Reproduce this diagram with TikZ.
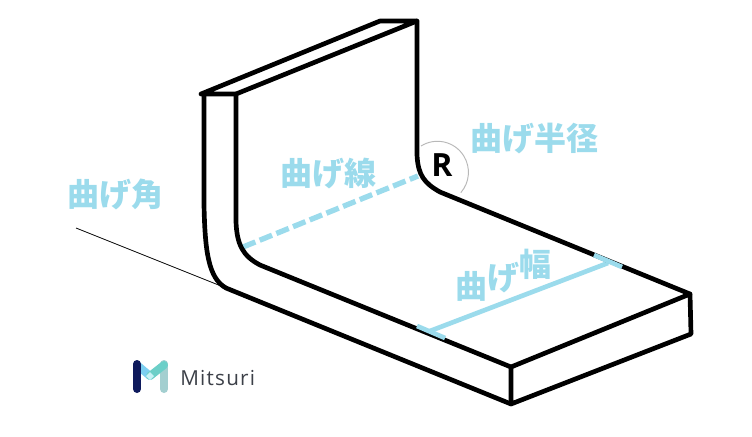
\documentclass[tikz,border=0pt]{standalone}
\usepackage{fontspec}
\newfontfamily\cjkbold{Noto Sans CJK JP Black}
\newfontfamily\logofont{Open Sans}
\newfontfamily\rfont{Open Sans Bold}
\definecolor{lblue}{HTML}{9BDBEC}
\definecolor{navy}{HTML}{0E1A5C}
\definecolor{logogray}{HTML}{3C4048}
\definecolor{logosky}{HTML}{7CCFF0}
\definecolor{logoteal}{HTML}{6CCFC8}
\definecolor{logostem}{HTML}{A3CFD0}
\definecolor{logomid}{HTML}{C8F2F6}
\tikzset{
  edgeline/.style={black,line width=3.5pt,line cap=round,line join=round},
  bluemark/.style={lblue,line width=3.5pt},
  bluelabel/.style={text=lblue,font=\cjkbold\fontsize{24pt}{26pt}\selectfont,inner sep=0pt},
  logostroke/.style={line width=6pt,line cap=round},
}
\begin{document}
\begin{tikzpicture}[x=0.75pt,y=-0.75pt]
\useasboundingbox (0,0) rectangle (752,436);
\fill[white] (0,0) rectangle (752,436);
% coordinates
\coordinate (tl) at (201,94);
\coordinate (tm) at (236,94);
\coordinate (bt) at (380,21);
\coordinate (tr) at (417,21);
\coordinate (fb) at (511,404);
\coordinate (ft) at (511,367);
\coordinate (rt) at (690,294);
\coordinate (rb) at (691,334);
% reference line and radius circle
\coordinate (refa) at (76,228);
\coordinate (refb) at (226,288);
\draw[black,line width=0.6pt] (refa) -- (refb);
\draw[black!28,line width=0.7pt] (421,146) arc[start angle=-122,end angle=41,radius=31];
% blue marks
\coordinate (da) at (243,247);
\coordinate (db) at (418,176);
\draw[bluemark,line width=4pt,dash pattern=on 10pt off 3.5pt] (da) -- (db);
\coordinate (wa) at (430,331);
\coordinate (wb) at (608,263);
\coordinate (ta1) at (417,326);
\coordinate (ta2) at (445,338);
\coordinate (tb1) at (594,255);
\coordinate (tb2) at (622,267);
\draw[bluemark] (wa) -- (wb);
% body
\draw[edgeline] (tl) -- (tm) -- (tr) -- (bt) -- (tl);
\draw[edgeline] (204,94) -- (204,205) .. controls (205,250) and (208,278) .. (226,288) -- (fb);
\draw[edgeline] (tm) -- (236,222) .. controls (237,245) and (243,256) .. (260,265) -- (ft);
\draw[edgeline] (tr) -- (417,155) .. controls (418,175) and (424,183) .. (440,192) -- (rt);
\draw[edgeline] (ft) -- (rt) -- (rb) -- (fb) -- cycle;
\draw[bluemark] (ta1) -- (ta2);
\draw[bluemark] (tb1) -- (tb2);
% labels
\node[bluelabel] (angle) at (115,194) {曲げ角};
\node[bluelabel] (line) at (328,174) {曲げ線};
\node[bluelabel] (radius) at (534.5,138.5) {曲げ半径};
\node[bluelabel,anchor=base west] (width) at (455,298) {曲\raisebox{6.5pt}{げ}\raisebox{16pt}{幅}};
\node[font=\rfont\fontsize{24pt}{26pt}\selectfont,inner sep=0pt] (r) at (442,165) {R};
% logo
\draw[logostroke,color=logostem] (164,364) -- (164,389);
\draw[logostroke,color=logosky] (137,365) -- (150,376);
\draw[logostroke,color=logoteal] (164,365) -- (150,376);
\fill[logomid] (150,372) -- (154,376) -- (150,380) -- (146,376) -- cycle;
\draw[logostroke,color=navy] (137,364) -- (137,389);
\node[text=logogray,font=\logofont\fontsize{15.5pt}{17pt}\selectfont,anchor=base west,inner sep=0pt] (logo) at (180,385) {\addfontfeature{LetterSpace=6}Mitsuri};
\end{tikzpicture}
\end{document}
